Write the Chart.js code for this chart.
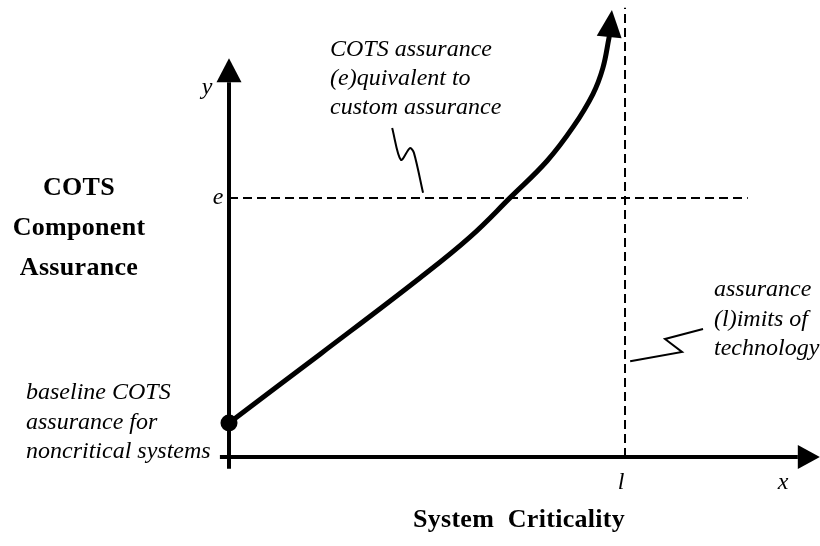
<!DOCTYPE html>
<html>
<head>
<meta charset="utf-8">
<script src="https://cdn.jsdelivr.net/npm/chart.js@4"></script>
<style>
  html, body { margin: 0; padding: 0; background: #fff; }
  #wrap { width: 820px; height: 546px; }
</style>
</head>
<body>
<div id="wrap"><canvas id="chart" width="820" height="546"></canvas></div>
<script>
// ===============================
// DATA (in chart units)
// ===============================
const curveX = [0, 2.30, 4.82, 6.09, 7.12, 8.03, 8.69, 9.19, 9.44, 9.60];
const curveY = [0.92, 2.78, 4.84, 5.95, 7.03, 8.00, 8.92, 9.81, 10.51, 11.35];
const curveTip = { x: 9.67, y: 12.08 };

const eLevel = 7;        // (e)quivalent assurance
const lLimit = 10;       // (l)imits of technology
const eLineEnd = 13.1;
const lLineTop = 12.14;

const yAxisTop = 10.78;
const xAxisEnd = 14.92;

const squiggleE = { x: [4.12, 4.34, 4.57, 4.67, 4.90], y: [8.89, 8.03, 8.35, 8.22, 7.14] };
const squiggleL = { x: [10.13, 11.44, 11.01, 11.97], y: [2.59, 2.84, 3.19, 3.46] };

const tickLabels = { y: "y", e: "e", l: "l", x: "x" };
const yTitle = ["COTS", "Component", "Assurance"];
const xTitle = "System  Criticality";
const noteE = ["COTS assurance", "(e)quivalent to", "custom assurance"];
const noteL = ["assurance", "(l)imits of", "technology"];
const noteBase = ["baseline COTS", "assurance for", "noncritical systems"];

function toPoints(xs, ys) {
    return xs.map((x, i) => ({ x, y: ys[i] }));
}

// ===============================
// DRAWING HELPERS
// ===============================
function arrowHead(ctx, from, to, halfWidth) {
    const ang = Math.atan2(to.y - from.y, to.x - from.x);
    const nx = -Math.sin(ang), ny = Math.cos(ang);
    ctx.beginPath();
    ctx.moveTo(to.x, to.y);
    ctx.lineTo(from.x + nx * halfWidth, from.y + ny * halfWidth);
    ctx.lineTo(from.x - nx * halfWidth, from.y - ny * halfWidth);
    ctx.closePath();
    ctx.fill();
}

function textLines(ctx, lines, x, y0, step) {
    lines.forEach((t, i) => ctx.fillText(t, x, y0 + i * step));
}

const diagramPlugin = {
    id: "diagram",
    beforeDatasetsDraw(chart) {
        const ctx = chart.ctx;
        const xs = chart.scales.x, ys = chart.scales.y;
        const px = v => xs.getPixelForValue(v);
        const py = v => ys.getPixelForValue(v);
        ctx.save();
        ctx.strokeStyle = "#000";
        ctx.fillStyle = "#000";
        ctx.lineWidth = 4;
        // y axis
        ctx.beginPath();
        ctx.moveTo(px(0), py(-0.32));
        ctx.lineTo(px(0), py(yAxisTop) + 24);
        ctx.stroke();
        arrowHead(ctx, { x: px(0), y: py(yAxisTop) + 24 }, { x: px(0), y: py(yAxisTop) }, 12.5);
        // x axis
        ctx.beginPath();
        ctx.moveTo(px(-0.23), py(0));
        ctx.lineTo(px(xAxisEnd) - 22, py(0));
        ctx.stroke();
        arrowHead(ctx, { x: px(xAxisEnd) - 22, y: py(0) }, { x: px(xAxisEnd), y: py(0) }, 12);
        ctx.restore();
    },
    afterDatasetsDraw(chart) {
        const ctx = chart.ctx;
        const xs = chart.scales.x, ys = chart.scales.y;
        const px = v => xs.getPixelForValue(v);
        const py = v => ys.getPixelForValue(v);
        ctx.save();
        ctx.fillStyle = "#000";
        // arrow at end of curve
        const last = curveX.length - 1;
        arrowHead(ctx,
            { x: px(curveX[last]), y: py(curveY[last]) },
            { x: px(curveTip.x), y: py(curveTip.y) }, 12.5);

        ctx.textBaseline = "middle";

        // axis letters
        ctx.font = "italic 24px 'Liberation Serif'";
        ctx.textAlign = "center";
        ctx.fillText(tickLabels.y, px(0) - 22, py(yAxisTop) + 30);
        ctx.fillText(tickLabels.e, px(0) - 11, py(eLevel));
        ctx.fillText(tickLabels.l, px(lLimit) - 4, py(0) + 26);
        ctx.fillText(tickLabels.x, 783, py(0) + 26);

        // notes
        ctx.textAlign = "left";
        textLines(ctx, noteE, 330, 50, 29);
        textLines(ctx, noteL, 714, 290, 29.5);
        textLines(ctx, noteBase, 26, 393, 29.5);

        // axis titles
        ctx.font = "bold 26px 'Liberation Serif'";
        ctx.letterSpacing = "0.3px";
        ctx.textAlign = "center";
        textLines(ctx, yTitle, 79, 188, 40);
        ctx.fillText(xTitle, 519, 520);
        ctx.restore();
    }
};

// ===============================
// CHART
// ===============================
const lineDefaults = { showLine: true, pointRadius: 0, fill: false, borderColor: "#000" };

new Chart(document.getElementById("chart"), {
    type: "scatter",
    data: {
        datasets: [
            { ...lineDefaults, label: "e", data: [{ x: 0, y: eLevel }, { x: eLineEnd, y: eLevel }],
              borderWidth: 2, borderDash: [9, 5] },
            { ...lineDefaults, label: "l", data: [{ x: lLimit, y: 0 }, { x: lLimit, y: lLineTop }],
              borderWidth: 2, borderDash: [9, 5] },
            { ...lineDefaults, label: "note e", data: toPoints(squiggleE.x, squiggleE.y),
              borderWidth: 2, tension: 0.3 },
            { ...lineDefaults, label: "note l", data: toPoints(squiggleL.x, squiggleL.y),
              borderWidth: 2, tension: 0 },
            { ...lineDefaults, label: "assurance", data: toPoints(curveX, curveY),
              borderWidth: 5, tension: 0.4, borderCapStyle: "round" },
            { label: "baseline", data: [{ x: curveX[0], y: curveY[0] }], showLine: false,
              pointRadius: 8.5, pointBackgroundColor: "#000", pointBorderColor: "#000", pointBorderWidth: 0 }
        ]
    },
    options: {
        responsive: false,
        animation: false,
        events: [],
        layout: { padding: 0, autoPadding: false },
        plugins: { legend: { display: false }, tooltip: { enabled: false } },
        scales: {
            x: { type: "linear", display: false, min: -5.783, max: 14.924 },
            y: { type: "linear", display: false, min: -2.405, max: 12.351 }
        }
    },
    plugins: [diagramPlugin]
});
</script>
</body>
</html>
